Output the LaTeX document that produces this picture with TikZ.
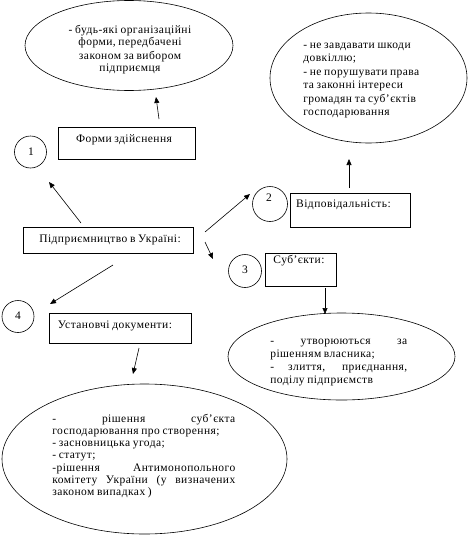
\documentclass[tikz,border=0pt]{standalone}
\usepackage{fontspec}
\setmainfont{Liberation Serif}[LetterSpace=4,WordSpace=0.8]
\usetikzlibrary{shapes.geometric,arrows.meta}
\begin{document}
\begin{tikzpicture}[x=1pt,y=-1pt,
  line width=0.6pt,
  every node/.style={inner sep=0pt, font=\fontsize{11.5}{13}\selectfont},
  box/.style={draw, rectangle},
  circ/.style={draw, circle},
  ell/.style={draw, ellipse},
  arr/.style={-{Triangle[length=6pt,width=5pt]}},
]
\useasboundingbox (0,0) rectangle (470,538);
% ellipses
\node[ell, minimum width=208pt, minimum height=90pt] (e1) at (129,45.5) {};
\node[ell, minimum width=197pt, minimum height=130pt] (e2) at (368.5,78) {};
\node[ell, minimum width=227pt, minimum height=87pt] (e3) at (341.5,356.5) {};
\node[ell, minimum width=285pt, minimum height=150pt] (e4) at (144.5,459) {};
% ellipse texts
\node[anchor=base] (t1) at (130,33) {\parbox[t]{150pt}{\centering\baselineskip=13pt
- будь-які організаційні\\ форми, передбачені\\ законом за вибором\\ підприємця}};
\node[anchor=base west] (t2) at (303,48) {\parbox[t]{150pt}{\raggedright\baselineskip=13.5pt
- не завдавати шкоди\\ довкіллю;\\ - не порушувати права\\ та законні інтереси\\ громадян та суб’єктів\\ господарювання}};
\node[anchor=base west] (t3) at (270,344) {\parbox[t]{137pt}{\raggedright\baselineskip=13.3pt
\makebox[\linewidth][s]{- утворюються за}\\ рішенням власника;\\ \makebox[\linewidth][s]{- злиття, приєднання,}\\ поділу підприємств}};
\node[anchor=base west] (t4) at (52,422) {\parbox[t]{183pt}{\raggedright\baselineskip=12.3pt
\makebox[\linewidth][s]{- рішення суб’єкта}\\ господарювання про створення;\\ - засновницька угода;\\ - статут;\\ \makebox[\linewidth][s]{-рішення Антимонопольного}\\ \makebox[\linewidth][s]{комітету України (у визначених}\\ законом випадках )}};
% boxes
\node[box, minimum width=137pt, minimum height=32pt] (b1) at (126.5,143) {};
\node (b1t) at (124,140) {Форми здійснення};
\node[box, minimum width=170pt, minimum height=26pt] (b0) at (108,240) {};
\node (b0t) at (110,240) {Підприємництво в Україні:};
\node[box, minimum width=120pt, minimum height=34pt] (b2) at (350,210) {};
\node (b2t) at (343.5,205) {Відповідальність:};
\node[box, minimum width=71pt, minimum height=33pt] (b3) at (300.5,269.5) {};
\node (b3t) at (299,261) {Суб’єкти:};
\node[box, minimum width=142pt, minimum height=30pt] (b4) at (120,328) {};
\node (b4t) at (115,326) {Установчі документи:};
% circles
\node[circ, minimum size=32pt] (c1) at (30.5,152) {};
\node (c1t) at (31,152) {1};
\node[circ, minimum size=35pt] (c2) at (270,204) {};
\node (c2t) at (269,198) {2};
\node[circ, minimum size=33pt] (c3) at (245,271) {};
\node (c3t) at (245,270) {3};
\node[circ, minimum size=32pt] (c4) at (18,316.5) {};
\node (c4t) at (18,316) {4};
% arrow end points
\coordinate (a0s) at (159,119); \coordinate (a0e) at (156,97);
\coordinate (a1s) at (81,223);  \coordinate (a1e) at (49,182);
\coordinate (a2s) at (205,232); \coordinate (a2e) at (250,194);
\coordinate (a3s) at (205,242); \coordinate (a3e) at (213,259);
\coordinate (a4s) at (113,265); \coordinate (a4e) at (50,304);
\coordinate (a5s) at (349,188); \coordinate (a5e) at (349,159);
\coordinate (a6s) at (325,288); \coordinate (a6e) at (325,314);
\coordinate (a7s) at (139,348); \coordinate (a7e) at (133,374);
\draw[arr] (a0s) -- (a0e);
\draw[arr] (a1s) -- (a1e);
\draw[arr] (a2s) -- (a2e);
\draw[arr] (a3s) -- (a3e);
\draw[arr] (a4s) -- (a4e);
\draw[arr] (a5s) -- (a5e);
\draw[arr] (a6s) -- (a6e);
\draw[arr] (a7s) -- (a7e);
\end{tikzpicture}
\end{document}
